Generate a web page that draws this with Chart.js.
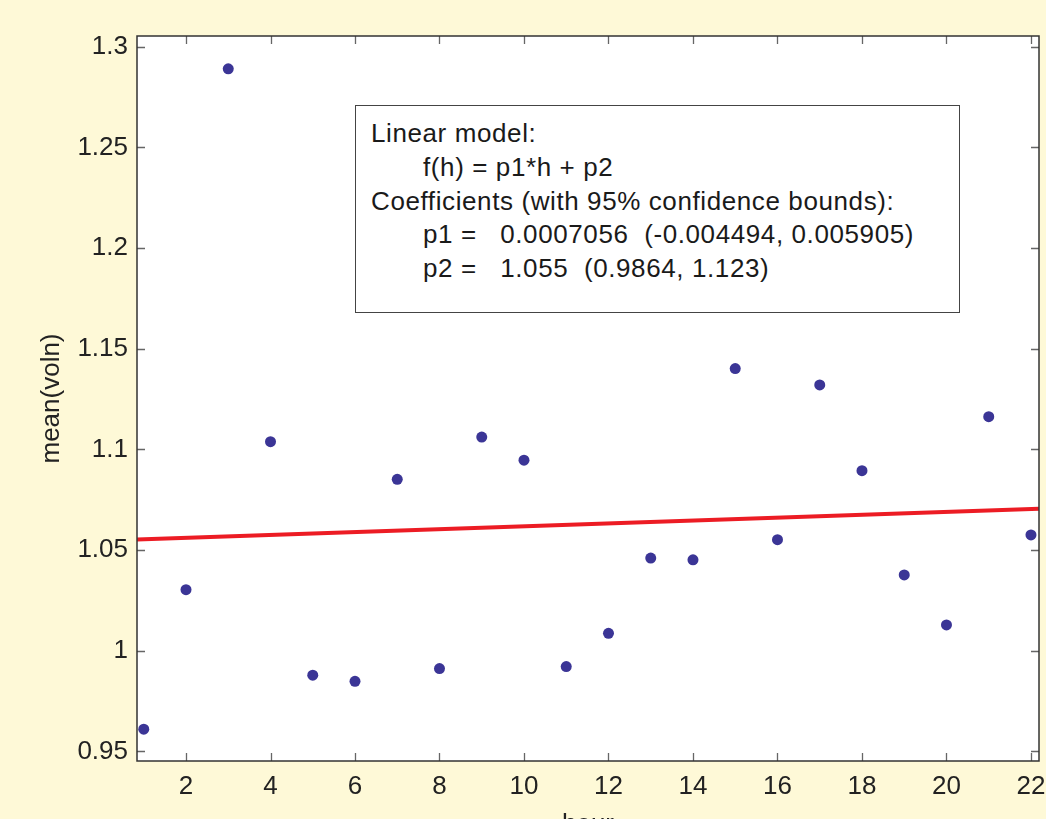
<!DOCTYPE html>
<html>
<head>
<meta charset="utf-8">
<script src="https://cdn.jsdelivr.net/npm/chart.js@4/dist/chart.umd.min.js"></script>
<style>
  body { margin: 0; background: #fef9d7; }
  #wrap { position: relative; width: 1046px; height: 819px; overflow: hidden; }
  #fitBox {
    position: absolute; left: 355px; top: 105px; width: 605px; height: 208px;
    border: 1px solid #444; background: #fff; box-sizing: border-box;
    font-family: "Liberation Sans", Arial, sans-serif; font-size: 26px; letter-spacing: 0.6px; color: #1a1a1a;
    padding: 11px 0 0 15px; line-height: 33.8px; white-space: pre;
  }
  #fitBox .ind { padding-left: 52px; }
</style>
</head>
<body>
<div id="wrap">
  <canvas id="fitChart" width="1046" height="819"></canvas>
  <div id="fitBox"><div>Linear model:</div><div class="ind">f(h) = p1*h + p2</div><div>Coefficients (with 95% confidence bounds):</div><div class="ind">p1 =   0.0007056  (-0.004494, 0.005905)</div><div class="ind">p2 =   1.055  (0.9864, 1.123)</div></div>
</div>
<script>
const hours = [1, 2, 3, 4, 5, 6, 7, 8, 9, 10, 11, 12, 13, 14, 15, 16, 17, 18, 19, 20, 21, 22];
const meanVoln = [0.961, 1.0303, 1.289, 1.1038, 0.9878, 0.9848, 1.0851, 0.9911, 1.1061, 1.0946, 0.9921,
  1.0086, 1.046, 1.0451, 1.1401, 1.0551, 1.132, 1.0894, 1.0376, 1.0128, 1.1162, 1.0575];
// fitted line f(h) = p1*h + p2, end points read at the axis limits
const fitHours = [0.84, 22.19];
const fitValues = [1.0552, 1.0705];
const xTicks = [2, 4, 6, 8, 10, 12, 14, 16, 18, 20, 22];
const yTicks = [0.95, 1, 1.05, 1.1, 1.15, 1.2, 1.25, 1.3];

const FONT = "'Liberation Sans', Arial, Helvetica, sans-serif";

const axesFrame = {
  id: "axesFrame",
  beforeDatasetsDraw(chart) {
    const { ctx, chartArea: a } = chart;
    ctx.save();
    ctx.fillStyle = "#ffffff";
    ctx.fillRect(a.left, a.top, a.right - a.left, a.bottom - a.top);
    ctx.restore();
  },
  afterDraw(chart) {
    const { ctx, chartArea: a, scales } = chart;
    ctx.save();
    ctx.strokeStyle = "#666";
    ctx.lineWidth = 1.3;
    ctx.beginPath();
    xTicks.forEach((t) => {
      const px = Math.round(scales.x.getPixelForValue(t)) + 0.5;
      ctx.moveTo(px, a.bottom); ctx.lineTo(px, a.bottom - 8);
      ctx.moveTo(px, a.top); ctx.lineTo(px, a.top + 8);
    });
    yTicks.forEach((t) => {
      const py = Math.round(scales.y.getPixelForValue(t)) + 0.5;
      ctx.moveTo(a.left, py); ctx.lineTo(a.left + 8, py);
      ctx.moveTo(a.right, py); ctx.lineTo(a.right - 8, py);
    });
    ctx.stroke();
    ctx.strokeStyle = "#333";
    ctx.lineWidth = 1.5;
    ctx.strokeRect(a.left, a.top, a.right - a.left, a.bottom - a.top);
    ctx.restore();
  },
};

new Chart(document.getElementById("fitChart"), {
  type: "scatter",
  data: {
    datasets: [
      {
        label: "mean(voln)",
        data: hours.map((h, i) => ({ x: h, y: meanVoln[i] })),
        backgroundColor: "#3b3596",
        borderColor: "#3b3596",
        pointRadius: 5.5,
        pointBorderWidth: 0,
      },
      {
        type: "line",
        label: "fit",
        data: fitHours.map((h, i) => ({ x: h, y: fitValues[i] })),
        borderColor: "#ec1c24",
        borderWidth: 4,
        pointRadius: 0,
        fill: false,
      },
    ],
  },
  options: {
    responsive: false,
    animation: false,
    layout: { padding: { left: 36, top: 36, right: 7, bottom: 0 } },
    plugins: { legend: { display: false }, tooltip: { enabled: false } },
    scales: {
      x: {
        type: "linear",
        min: 0.84,
        max: 22.19,
        grid: { display: false, drawTicks: false },
        border: { display: false },
        afterBuildTicks: (scale) => { scale.ticks = xTicks.map((v) => ({ value: v })); },
        afterFit: (scale) => { scale.height = 58; scale.paddingLeft = 0; scale.paddingRight = 0; },
        ticks: { padding: 10, color: "#222", font: { family: FONT, size: 26 }, maxRotation: 0, autoSkip: false },
        title: { display: true, text: "hour", color: "#222", font: { family: FONT, size: 26 }, padding: { top: 0, bottom: -21 } },
      },
      y: {
        type: "linear",
        min: 0.9452,
        max: 1.3053,
        grid: { display: false, drawTicks: false },
        border: { display: false },
        afterBuildTicks: (scale) => { scale.ticks = yTicks.map((v) => ({ value: v })); },
        afterFit: (scale) => { scale.width = 101; scale.paddingTop = 0; scale.paddingBottom = 0; },
        ticks: {
          padding: 9, color: "#222", font: { family: FONT, size: 26 }, autoSkip: false,
          callback: (v) => String(+v.toFixed(2)),
        },
        title: { display: true, text: "mean(voln)", color: "#222", font: { family: FONT, size: 26 }, padding: 0 },
      },
    },
  },
  plugins: [axesFrame],
});
</script>
</body>
</html>
